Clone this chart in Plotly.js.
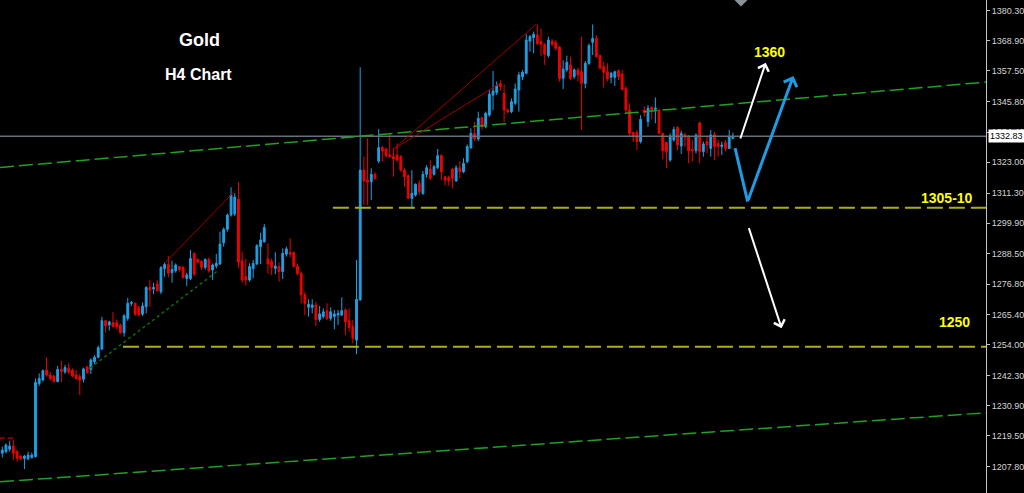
<!DOCTYPE html>
<html>
<head>
<meta charset="utf-8">
<script src="https://cdn.plot.ly/plotly-3.0.1.min.js"></script>
<style>
  html, body { margin: 0; padding: 0; background: #000; }
  #chart { width: 1024px; height: 493px; }
</style>
</head>
<body>
<div id="chart"></div>
<script>
// Gold, H4 candles (bar index 0 = oldest)
const open = [1212.9,1213.5,1214.4,1215.6,1213.5,1211.8,1210.9,1210.8,1211.3,1211.6,
1239.3,1240.6,1244.4,1242.5,1242.1,1240.0,1244.6,1243.7,1245.0,1244.4,
1242.5,1241.9,1240.9,1245.6,1244.6,1247.5,1249.2,1252.3,1263.0,1261.4,
1262.3,1262.3,1261.4,1258.5,1263.9,1269.6,1269.6,1268.1,1265.5,1268.3,
1275.6,1275.0,1276.9,1274.0,1282.7,1284.3,1281.2,1281.9,1283.5,1283.2,
1279.0,1279.0,1288.5,1286.2,1285.4,1283.2,1286.2,1282.2,1283.7,1284.5,
1292.5,1297.6,1303.0,1303.4,1309.0,1285.6,1279.7,1278.4,1282.8,1284.5,
1291.0,1292.9,1286.4,1285.4,1282.8,1283.5,1281.6,1288.2,1288.8,1288.8,
1283.7,1280.9,1272.8,1268.1,1268.1,1269.0,1263.5,1264.6,1266.8,1263.9,
1264.6,1265.2,1265.2,1267.1,1263.0,1260.8,1255.7,1270.9,1320.0,1316.3,
1315.6,1318.4,1323.4,1328.5,1327.9,1325.7,1325.1,1325.7,1325.1,1320.0,
1317.9,1309.3,1310.6,1315.0,1311.2,1318.4,1320.4,1318.4,1320.9,1325.5,
1317.5,1317.1,1320.4,1315.9,1320.9,1319.4,1323.2,1328.5,1333.9,1331.8,
1339.8,1336.4,1340.8,1348.4,1349.4,1352.8,1349.0,1342.7,1342.1,1345.3,
1350.3,1355.3,1356.6,1368.8,1370.1,1371.1,1368.6,1367.6,1363.3,1368.8,
1368.3,1366.6,1354.7,1357.9,1359.8,1355.3,1357.9,1357.2,1352.8,1360.4,
1368.3,1369.8,1363.3,1359.1,1357.2,1355.1,1355.1,1357.6,1356.4,1350.9,
1342.7,1334.2,1334.2,1330.8,1342.7,1338.3,1343.8,1343.0,1342.7,1333.9,
1330.4,1323.8,1331.4,1336.1,1329.1,1333.5,1332.9,1327.8,1327.3,1337.9,
1327.0,1330.8,1328.2,1333.5,1330.1,1328.9,1330.4,1328.2,1332.0];

const high = [1215.4,1216.6,1217.6,1217.9,1214.1,1212.2,1212.2,1213.5,1213.1,1241.2,
1243.1,1244.6,1249.2,1243.7,1242.5,1245.9,1247.8,1246.3,1246.9,1245.0,
1244.4,1242.9,1245.3,1246.0,1248.8,1250.0,1253.6,1264.5,1263.3,1263.0,
1266.4,1263.5,1262.0,1265.5,1271.7,1270.5,1269.9,1268.6,1269.9,1276.1,
1278.4,1277.4,1278.4,1283.7,1285.0,1287.5,1285.7,1284.7,1283.7,1283.7,
1281.2,1289.8,1288.8,1286.6,1286.0,1286.6,1287.0,1284.7,1288.3,1296.7,
1298.3,1303.6,1313.5,1311.3,1315.5,1289.2,1286.4,1284.7,1286.0,1292.0,
1296.3,1299.6,1292.3,1286.6,1288.9,1285.0,1290.4,1291.0,1294.2,1289.2,
1284.7,1281.6,1274.0,1271.1,1271.1,1270.2,1268.6,1267.7,1269.6,1268.1,
1267.1,1267.1,1271.9,1267.7,1267.7,1263.3,1286.0,1358.9,1325.1,1332.0,
1320.7,1319.2,1335.5,1329.1,1328.5,1333.5,1328.2,1330.1,1325.7,1320.7,
1318.4,1320.0,1315.0,1316.2,1319.7,1321.9,1323.8,1321.9,1328.0,1326.0,
1317.9,1317.9,1320.9,1321.9,1323.4,1324.5,1329.7,1335.8,1338.3,1342.1,
1340.2,1342.1,1350.3,1357.5,1353.5,1354.0,1352.4,1343.4,1347.1,1352.8,
1357.2,1357.9,1371.4,1371.1,1372.4,1375.1,1373.6,1368.0,1370.5,1369.6,
1369.2,1366.7,1361.6,1363.3,1362.9,1358.5,1358.7,1370.5,1361.3,1367.9,
1375.1,1371.1,1363.8,1361.0,1360.4,1357.2,1357.6,1358.1,1357.9,1351.8,
1345.3,1334.5,1335.2,1340.8,1344.2,1344.6,1344.2,1347.5,1343.0,1334.2,
1330.8,1333.9,1336.4,1336.7,1334.9,1334.2,1333.3,1331.4,1333.9,1338.3,
1330.8,1332.9,1335.2,1334.5,1331.4,1330.8,1331.4,1335.2,1334.2];

const low = [1211.3,1212.9,1213.5,1210.3,1209.7,1210.3,1206.9,1210.3,1210.8,1211.3,
1238.3,1240.0,1241.9,1240.3,1239.7,1239.7,1239.7,1242.9,1242.9,1241.6,
1240.6,1234.9,1239.7,1242.9,1242.9,1246.6,1248.8,1251.9,1258.5,1259.3,
1260.5,1259.8,1258.0,1257.0,1263.0,1268.6,1264.8,1264.6,1264.8,1265.8,
1268.3,1273.1,1274.0,1273.1,1279.7,1279.4,1277.4,1281.2,1281.6,1279.0,
1276.1,1278.4,1279.9,1284.7,1282.2,1282.4,1281.2,1278.4,1282.8,1284.1,
1291.0,1296.7,1302.4,1302.6,1283.0,1277.4,1276.3,1277.8,1279.1,1284.1,
1284.5,1292.5,1280.9,1280.3,1280.6,1277.8,1278.8,1287.3,1287.0,1283.2,
1280.3,1269.6,1265.2,1264.6,1265.8,1261.0,1262.6,1263.9,1263.3,1263.0,
1259.8,1261.4,1264.8,1257.6,1258.9,1254.5,1250.4,1270.6,1306.8,1306.8,
1308.7,1316.2,1322.6,1323.2,1324.7,1324.7,1317.5,1323.2,1319.4,1313.7,
1309.1,1305.3,1310.0,1310.6,1310.6,1317.1,1316.2,1317.9,1320.4,1316.2,
1314.1,1314.1,1313.1,1315.6,1316.9,1318.8,1322.6,1328.0,1331.0,1331.0,
1335.2,1335.8,1340.2,1342.7,1348.4,1350.0,1338.1,1341.5,1341.5,1344.6,
1342.1,1354.1,1356.2,1364.8,1364.2,1367.3,1363.3,1359.8,1362.5,1366.7,
1365.1,1353.5,1350.7,1357.2,1354.1,1354.5,1353.5,1335.2,1350.9,1359.8,
1363.5,1362.5,1357.9,1351.2,1353.5,1352.8,1351.8,1354.1,1350.1,1341.5,
1332.6,1330.8,1327.6,1330.1,1340.2,1336.4,1339.2,1337.7,1333.6,1324.1,
1320.7,1323.2,1330.8,1327.6,1326.1,1328.9,1322.6,1323.2,1326.3,1322.6,
1325.1,1326.4,1325.1,1323.8,1325.1,1325.7,1327.0,1327.9,1331.7];

const close = [1214.1,1216.0,1215.6,1212.9,1211.0,1210.8,1211.8,1212.2,1212.2,1239.7,
1241.2,1244.1,1242.5,1241.2,1240.0,1244.6,1243.7,1245.3,1243.5,1242.1,
1241.2,1240.6,1244.8,1243.4,1248.2,1249.2,1252.8,1263.0,1261.1,1262.6,
1260.8,1260.8,1258.6,1264.9,1269.6,1269.9,1265.5,1265.2,1268.6,1275.6,
1274.6,1275.6,1274.4,1283.1,1284.3,1281.0,1282.4,1284.1,1282.4,1279.4,
1280.3,1286.6,1280.7,1285.2,1283.2,1286.2,1281.9,1284.1,1284.7,1292.0,
1297.6,1303.0,1310.6,1309.8,1285.2,1278.4,1278.4,1283.5,1284.7,1291.4,
1293.6,1298.3,1284.5,1283.2,1283.7,1281.6,1288.5,1290.2,1288.2,1283.5,
1280.9,1272.8,1269.6,1269.2,1269.0,1263.5,1265.6,1266.4,1263.9,1266.4,
1265.6,1265.8,1266.8,1262.6,1260.5,1256.4,1271.1,1320.0,1316.0,1315.5,
1318.4,1316.9,1328.5,1327.2,1325.5,1325.1,1324.2,1323.8,1320.0,1317.5,
1309.3,1311.2,1314.6,1311.8,1318.4,1320.9,1316.9,1321.3,1325.5,1319.4,
1316.2,1316.0,1316.9,1320.9,1319.4,1322.6,1328.9,1333.9,1331.8,1339.6,
1336.4,1341.5,1348.7,1349.9,1351.9,1351.6,1342.7,1342.1,1345.9,1350.7,
1356.0,1357.0,1369.2,1370.5,1371.4,1367.9,1367.6,1363.8,1369.2,1367.6,
1366.1,1354.7,1358.2,1360.8,1354.7,1357.9,1356.0,1352.8,1360.4,1367.1,
1369.8,1362.9,1358.7,1357.0,1354.5,1356.6,1357.2,1355.4,1350.6,1342.7,
1333.9,1332.6,1330.8,1339.2,1341.7,1343.4,1342.7,1343.4,1333.9,1327.3,
1327.0,1332.9,1335.4,1329.5,1333.9,1332.4,1327.3,1327.3,1333.3,1327.0,
1329.9,1329.5,1333.3,1328.9,1328.9,1329.5,1328.2,1332.6,1332.83];

const bars = open.map((_, i) => i);

// Price scale labels
const priceTicks = [1380.30,1368.90,1357.50,1345.80,1334.40,1323.00,1311.30,1299.90,
                    1288.50,1276.80,1265.40,1254.00,1242.30,1230.90,1219.50,1207.80];
const lastPrice = 1332.83;

// Channel (green dashed) — endpoints in bar index / price
const channelTopX = [-0.62, 266.6], channelTopY = [1321.0, 1353.3];
const channelLowX = [-0.62, 266.6], channelLowY = [1202.1, 1228.2];

// Support levels (yellow dashed)
const support1X = [89.6, 266.6], support1Y = [1305.8, 1305.8];
const support2X = [32.7, 266.6], support2Y = [1253.2, 1253.2];

// Hand-drawn trend lines
const redLineAX = [44.1, 63.1], redLineAY = [1284.9, 1312.2];
const redLineBX = [106.0, 144.8], redLineBY = [1327.9, 1375.3];
const redLineCX = [106.0, 135.1], redLineCY = [1327.9, 1353.0];
const redLineDX = [-0.62, 3.2], redLineDY = [1218.6, 1218.6];
const greenDotX = [23.8, 58.1], greenDotY = [1245.1, 1281.6];

// Projected paths
const bluePathX = [198.6, 202.0, 214.4], bluePathY = [1328.3, 1308.1, 1355.6];
const upArrowX = [199.9, 206.9], upArrowY = [1331.4, 1360.6];
const downArrowX = [202.2, 211.2], downArrowY = [1298.6, 1260.2];

const line = (x, y, color, width, dash) => ({
  type: 'scatter', mode: 'lines', x: x, y: y, hoverinfo: 'skip',
  line: { color: color, width: width, dash: dash || 'solid' }
});

const traces = [
  line([-0.62, 266.6], [lastPrice, lastPrice], '#67707a', 1.5),
  line(channelTopX, channelTopY, '#22a022', 1.5, '14px,5px'),
  line(channelLowX, channelLowY, '#22a022', 1.5, '14px,5px'),
  line(support1X, support1Y, '#adad1c', 2, '16px,6px'),
  line(support2X, support2Y, '#adad1c', 2, '16px,6px'),
  line(greenDotX, greenDotY, '#0b6e0b', 1.5, 'dot'),
  line(redLineAX, redLineAY, '#a00000', 1),
  line(redLineBX, redLineBY, '#a00000', 1),
  line(redLineCX, redLineCY, '#a00000', 1),
  line(redLineDX, redLineDY, '#8a0000', 2, '5px,3px'),
  {
    type: 'candlestick', x: bars, open: open, high: high, low: low, close: close,
    hoverinfo: 'skip',
    increasing: { line: { color: '#1ea0e4', width: 1 }, fillcolor: '#1ea0e4' },
    decreasing: { line: { color: '#f00000', width: 1 }, fillcolor: '#f00000' }
  },
  line(bluePathX.slice(0, 2), bluePathY.slice(0, 2), '#1e9be3', 3),
  {
    type: 'scatter', mode: 'markers', x: [200.2], y: [1384.6], hoverinfo: 'skip',
    marker: { symbol: 'diamond', size: 11, color: '#8a929a' }
  }
];

const arrow = (xs, ys, color, width, size) => ({
  x: xs[1], y: ys[1], ax: xs[0], ay: ys[0],
  xref: 'x', yref: 'y', axref: 'x', ayref: 'y',
  text: '', showarrow: true, arrowhead: 4, arrowsize: size,
  arrowwidth: width, arrowcolor: color, standoff: 0
});

const label = (text, x, y, size, color) => ({
  text: text, xref: 'paper', yref: 'paper', x: x, y: y,
  xanchor: 'center', yanchor: 'middle', showarrow: false,
  font: { family: 'Liberation Sans, Arial, sans-serif', size: size, color: color }
});

const layout = {
  width: 1024, height: 493,
  paper_bgcolor: '#000000', plot_bgcolor: '#000000',
  margin: { l: 0, r: 38, t: 0, b: 0, pad: 0 },
  showlegend: false, hovermode: false,
  xaxis: {
    range: [-0.62, 266.6], visible: false, showgrid: false, zeroline: false,
    rangeslider: { visible: false }
  },
  yaxis: {
    side: 'right', range: [1197.85, 1384.35],
    showgrid: false, zeroline: false,
    showline: true, linecolor: '#c4c4c4', linewidth: 1,
    ticks: 'outside', ticklen: 3, tickcolor: '#c4c4c4', tickwidth: 1,
    tickvals: priceTicks, ticktext: priceTicks.map(v => v.toFixed(2)),
    tickfont: { family: 'Liberation Sans, Arial, sans-serif', size: 9, color: '#d4d4d4' }
  },
  annotations: [
    arrow(bluePathX.slice(1), bluePathY.slice(1), '#1e9be3', 3, 0.9),
    arrow(upArrowX, upArrowY, '#ffffff', 2, 1.1),
    arrow(downArrowX, downArrowY, '#ffffff', 2, 1.1),
    label('<b>Gold</b>', 199 / 986, 1 - 40 / 493, 18, '#ffffff'),
    label('<b>H4 Chart</b>', 198 / 986, 1 - 75 / 493, 16, '#ffffff'),
    label('<b>1360</b>', 769 / 986, 1 - 52 / 493, 14, '#ffff00'),
    label('<b>1305-10</b>', 947 / 986, 1 - 198 / 493, 14, '#ffff00'),
    label('<b>1250</b>', 954.5 / 986, 1 - 322 / 493, 14, '#ffff00'),
    {
      text: lastPrice.toFixed(2), xref: 'paper', yref: 'y', x: 1, y: lastPrice,
      xanchor: 'left', yanchor: 'middle', xshift: 2, showarrow: false,
      bgcolor: '#ffffff', borderpad: 1,
      font: { family: 'Liberation Sans, Arial, sans-serif', size: 9, color: '#000000' }
    }
  ]
};

Plotly.newPlot('chart', traces, layout, { displayModeBar: false, staticPlot: true });
</script>
</body>
</html>
